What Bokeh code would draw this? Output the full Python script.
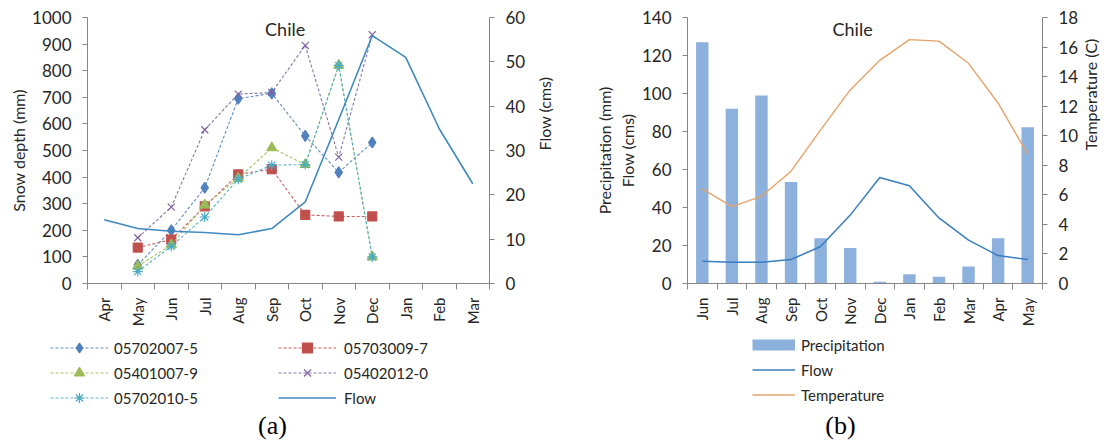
import numpy as np
from bokeh.plotting import figure
from bokeh.models import (Range1d, LinearAxis, FixedTicker, Legend, LegendItem, Label)
from bokeh.layouts import row, column
from bokeh.embed import file_html
from bokeh.resources import INLINE

# ---------------- data (a) ----------------
months_a = ["Apr", "May", "Jun", "Jul", "Aug", "Sep", "Oct", "Nov", "Dec", "Jan", "Feb", "Mar"]
snow_months = ["May", "Jun", "Jul", "Aug", "Sep", "Oct", "Nov", "Dec"]
snow_05702007_5 = [70, 200, 360, 695, 715, 555, 418, 530]
snow_05703009_7 = [135, 165, 290, 410, 430, 258, 252, 252]
snow_05401007_9 = [65, 145, 295, 395, 510, 447, 820, 100]
snow_05402012_0 = [172, 287, 578, 712, 718, 895, 475, 935]
snow_05702010_5 = [45, 140, 250, 392, 445, 447, 820, 100]
flow_a = [14.4, 12.4, 11.8, 11.5, 11.0, 12.4, 18.4, 37.0, 55.9, 51.0, 34.9, 22.5]

# ---------------- data (b) ----------------
months_b = ["Jun", "Jul", "Aug", "Sep", "Oct", "Nov", "Dec", "Jan", "Feb", "Mar", "Apr", "May"]
precip_b = [127, 92, 99, 53.4, 23.8, 18.7, 0.9, 4.9, 3.5, 8.9, 23.8, 82.3]
flow_b = [11.7, 11.2, 11.2, 12.6, 19.5, 36.0, 55.8, 51.4, 34.5, 22.8, 14.7, 12.6]
temp_b = [6.4, 5.2, 5.9, 7.6, 10.4, 13.1, 15.1, 16.5, 16.4, 14.9, 12.2, 8.75]

FONT = "Lato"
AXIS_COL = "#868686"
TXT_COL = "#262626"
TOP_H = 330
BOT_H = 442 - TOP_H
W1 = 566
W2 = 1112 - W1
OFF = [-1.0e6]  # legend-sample renderers sit far outside the visible range


def style_x(ax, labels):
    n = len(labels)
    ax.ticker = FixedTicker(ticks=list(range(n)), minor_ticks=[i - 0.5 for i in range(n + 1)])
    ax.major_label_overrides = {i: lab for i, lab in enumerate(labels)}
    ax.major_tick_line_color = None
    ax.major_tick_out = 0
    ax.major_tick_in = 0
    ax.minor_tick_line_color = AXIS_COL
    ax.minor_tick_out = 6
    ax.minor_tick_in = 0
    ax.axis_line_color = AXIS_COL
    ax.major_label_orientation = np.pi / 2
    ax.major_label_standoff = 8
    ax.major_label_text_font = FONT
    ax.major_label_text_font_size = "15px"
    ax.major_label_text_color = TXT_COL


def style_y(ax, ticks, label, standoff):
    ax.ticker = FixedTicker(ticks=ticks)
    ax.axis_line_color = AXIS_COL
    ax.major_tick_line_color = AXIS_COL
    ax.major_tick_out = 5
    ax.major_tick_in = 0
    ax.minor_tick_line_color = None
    ax.major_label_standoff = 11
    ax.major_label_text_font = FONT
    ax.major_label_text_font_size = "17px"
    ax.major_label_text_color = TXT_COL
    ax.axis_label = label
    ax.axis_label_text_font = FONT
    ax.axis_label_text_font_size = "16px"
    ax.axis_label_text_font_style = "normal"
    ax.axis_label_text_color = TXT_COL
    ax.axis_label_standoff = standoff


def make_legend(its, x, y, gw, standoff):
    lg = Legend(items=its, location=(x, y), orientation="vertical")
    lg.border_line_color = None
    lg.background_fill_alpha = 0
    lg.padding = 0
    lg.margin = 0
    lg.spacing = 0
    lg.glyph_width = gw
    lg.glyph_height = 25
    lg.label_height = 25
    lg.label_standoff = standoff
    lg.label_text_font = FONT
    lg.label_text_font_size = "15px"
    lg.label_text_color = TXT_COL
    return lg


def bottom_fig(x0, w):
    q = figure(width=w, height=BOT_H, x_range=Range1d(x0, x0 + w), y_range=Range1d(442, TOP_H),
               output_backend="svg", toolbar_location=None, min_border=0,
               x_axis_location=None, y_axis_location=None)
    q.outline_line_color = None
    q.grid.visible = False
    return q


# ================= figure (a) =================
p1 = figure(width=W1, height=TOP_H, x_range=Range1d(-0.5, 11.5), y_range=Range1d(0, 1000),
            output_backend="svg", toolbar_location=None,
            min_border_left=87, min_border_right=W1 - 490, min_border_top=17, min_border_bottom=TOP_H - 283)
p1.outline_line_color = None
p1.grid.visible = False
p1.extra_y_ranges = {"flow": Range1d(0, 60)}
style_x(p1.xaxis[0], months_a)
style_y(p1.yaxis[0], list(range(0, 1001, 100)), "Snow depth (mm)", 1)
ax_r = LinearAxis(y_range_name="flow")
style_y(ax_r, list(range(0, 61, 10)), "Flow (cms)", 16)
ax_r.axis_label_orientation = np.pi / 2
p1.add_layout(ax_r, "right")

xa = {m: i for i, m in enumerate(months_a)}
xs_snow = [xa[m] for m in snow_months]

series = [
    ("05702007-5", snow_05702007_5, "#4F81BD", "diamond", 11),
    ("05703009-7", snow_05703009_7, "#C0504D", "square", 9),
    ("05401007-9", snow_05401007_9, "#9BBB59", "triangle", 10),
    ("05402012-0", snow_05402012_0, "#8064A2", "x", 10),
    ("05702010-5", snow_05702010_5, "#4BACC6", "asterisk", 10),
]

q1 = bottom_fig(0, W1)
items = {}
for name, vals, col, mk, sz in series:
    p1.line(xs_snow, vals, line_color=col, line_width=1.1, line_dash="3 2", line_alpha=0.9)
    p1.scatter(xs_snow, vals, marker=mk, size=sz, fill_color=col, line_color=col, line_width=1.2)
    # legend samples for the legend panel
    lr = q1.line(OFF, OFF, line_color=col, line_width=1.1, line_dash="3 2", line_alpha=0.9)
    sr = q1.scatter(OFF, OFF, marker=mk, size=sz - 2, fill_color=col, line_color=col, line_width=1.2)
    items[name] = LegendItem(label=name, renderers=[lr, sr])

FLOW_A_COL = "#3F89BF"
p1.line(list(range(len(months_a))), flow_a, y_range_name="flow", line_color=FLOW_A_COL, line_width=1.6)
fl_s = q1.line(OFF, OFF, line_color=FLOW_A_COL, line_width=1.6)
items["Flow"] = LegendItem(label="Flow", renderers=[fl_s])

q1.add_layout(make_legend([items["05702007-5"], items["05401007-9"], items["05702010-5"]], 50, 32, 58, 6))
q1.add_layout(make_legend([items["05703009-7"], items["05402012-0"], items["Flow"]], 278, 32, 58, 8))

p1.add_layout(Label(x=5.4, y=958, text="Chile", text_align="center", text_baseline="middle",
                    text_font=FONT, text_font_size="18px", text_color=TXT_COL))
q1.add_layout(Label(x=272, y=425, text="(a)", text_align="center", text_baseline="middle",
                    text_font="Liberation Serif", text_font_size="26px", text_color="black"))

# ================= figure (b) =================
p2 = figure(width=W2, height=TOP_H, x_range=Range1d(-0.5, 11.5), y_range=Range1d(0, 140),
            output_backend="svg", toolbar_location=None,
            min_border_left=687 - W1, min_border_right=68, min_border_top=17, min_border_bottom=TOP_H - 284)
p2.outline_line_color = None
p2.grid.visible = False
p2.extra_y_ranges = {"temp": Range1d(0, 18)}
style_x(p2.xaxis[0], months_b)
style_y(p2.yaxis[0], list(range(0, 141, 20)), "Precipitation (mm)\nFlow (cms)", 2)
ax_t = LinearAxis(y_range_name="temp")
style_y(ax_t, list(range(0, 19, 2)), "Temperature (C)", 9)
ax_t.axis_label_orientation = np.pi / 2
p2.add_layout(ax_t, "right")

xb = list(range(len(months_b)))
BAR_COL = "#8DB1DD"
FLOW_B_COL = "#3A7DBF"
TEMP_COL = "#E6A36A"
p2.vbar(x=xb, top=precip_b, width=0.42, fill_color=BAR_COL, line_color=None)
p2.line(xb, flow_b, line_color=FLOW_B_COL, line_width=1.5)
p2.line(xb, temp_b, y_range_name="temp", line_color=TEMP_COL, line_width=1.4)

q2 = bottom_fig(W1, W2)
pr_s = q2.line(OFF, OFF, line_color=BAR_COL, line_width=11)
fr_s = q2.line(OFF, OFF, line_color=FLOW_B_COL, line_width=1.5)
tr_s = q2.line(OFF, OFF, line_color=TEMP_COL, line_width=1.4)
q2.add_layout(make_legend([LegendItem(label="Precipitation", renderers=[pr_s]),
                           LegendItem(label="Flow", renderers=[fr_s]),
                           LegendItem(label="Temperature", renderers=[tr_s])], 752 - W1, 35, 43, 6))

p2.add_layout(Label(x=5.08, y=134, text="Chile", text_align="center", text_baseline="middle",
                    text_font=FONT, text_font_size="18px", text_color=TXT_COL))
q2.add_layout(Label(x=840, y=425, text="(b)", text_align="center", text_baseline="middle",
                    text_font="Liberation Serif", text_font_size="26px", text_color="black"))

layout = column(row(p1, p2, spacing=0), row(q1, q2, spacing=0), spacing=0)
open("out.html", "w").write(file_html(layout, INLINE))
